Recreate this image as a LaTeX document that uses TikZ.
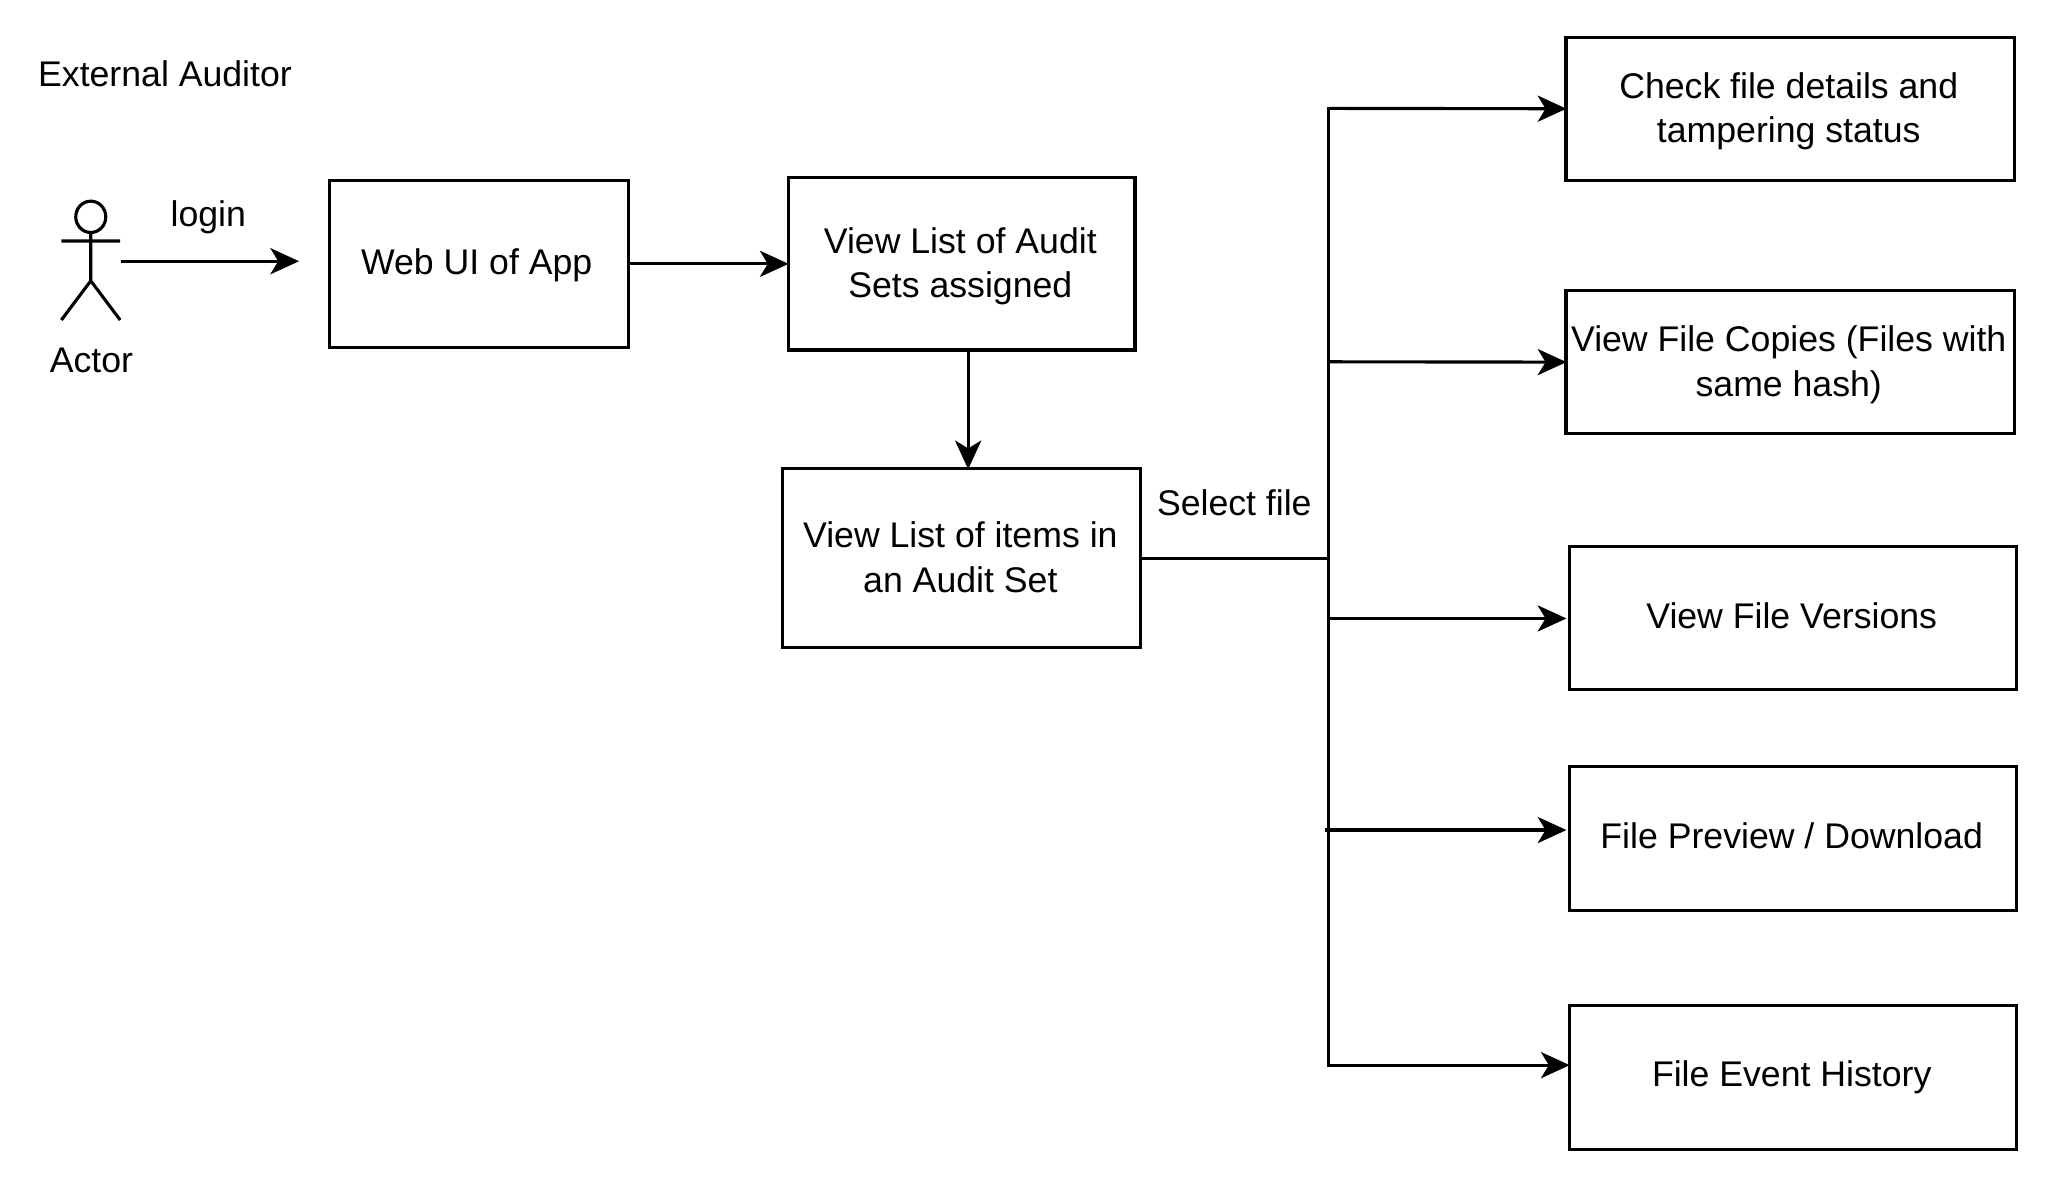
\documentclass[tikz,border=0pt]{standalone}
\usepackage{fontspec}
\setmainfont{Liberation Sans}
\usetikzlibrary{arrows.meta}
\tikzset{
  box/.style={draw=black,line width=2.4pt,fill=white,align=center,inner sep=0pt},
  lbl/.style={inner sep=0pt,align=center},
  conn/.style={line width=2.4pt,draw=black},
  arr/.style={conn,shorten >=-1.5pt,-{Stealth[length=22pt,width=20pt,inset=6pt]}},
  stick/.style={line width=2.4pt,draw=black},
}
\newcommand{\rectnode}[6]{\node[box,minimum width=#4pt-#2pt,minimum height=#5pt-#3pt] (#1) at ({(#2+#4)/2},{(#3+#5)/2}) {#6};}
% text nudges inside a box: lower the block by #1, raise it by #1 (with natural depth #2)
\newcommand{\dnby}[1]{\rule{0pt}{\dimexpr19.9pt+2\dimexpr#1\relax\relax}}
\newcommand{\upby}[2][0pt]{\rule[\dimexpr-#1-2\dimexpr#2\relax\relax]{0pt}{0pt}}
\begin{document}
\begin{tikzpicture}[x=1pt,y=-1pt,font=\fontsize{27.3}{34}\selectfont]
\useasboundingbox (0,0) rectangle (1568,904.2);
\rectnode{web}{252}{138}{481}{266}{\dnby{1pt}Web UI of App\kern3pt}
\rectnode{sets}{603.5}{136}{869}{268}{\dnby{2pt}View List of Audit\kern2pt\\Sets assigned\kern2pt}
\rectnode{items}{599}{359}{873.5}{496}{View List of items in\kern2pt\\an Audit Set\kern2pt\upby{1pt}}
\rectnode{check}{1199}{28.5}{1542}{138}{\dnby{2pt}Check file details and\kern2pt\\tampering status\kern2pt}
\rectnode{copies}{1199}{222.5}{1542}{332}{\dnby{2pt}View File Copies (Files with\kern2pt\\same hash)\kern2pt}
\rectnode{versions}{1201.5}{418.5}{1544}{528}{View File Versions\kern2pt\upby{2pt}}
\rectnode{preview}{1201.5}{587}{1544}{697}{File Preview / Download\kern2pt\upby{2pt}}
\rectnode{history}{1201.5}{770}{1544}{880}{File Event History\kern2pt\upby[5.7pt]{0.5pt}}

\node[lbl,anchor=west] (title) at (29,56.8) {External Auditor};
\node[lbl] (actorlabel) at (70,276) {Actor};
\node[lbl] (login) at (159.5,166) {login};
\node[lbl] (select) at (945,385) {Select file};

% actor figure
\draw[stick] (69.5,166) ellipse [x radius=11.5,y radius=12];
\draw[stick] (69.5,178) -- (69.5,215) (47,184.5) -- (92,184.5) (47,245) -- (69.5,215) -- (92,245);

\coordinate (actorout) at (93,200);
\coordinate (actorin) at (227.5,200);
\draw[arr] (actorout) -- (actorin);
\draw[arr] (web.east) -- (sets.west);
\draw[arr] ([xshift=5pt]sets.south) -- ([xshift=5pt]items.north);

\coordinate (trunkmid) at (1017,427.5);
\coordinate (trunktop) at (1017,83);
\coordinate (trunkb) at (1017,277);
\coordinate (trunkc) at (1017,473.5);
\coordinate (trunkd) at (1014.5,635.5);
\coordinate (trunkbot) at (1017,815.5);
\draw[conn] (items.east) -- (trunkmid);
\draw[conn,line cap=rect] (trunktop) -- (trunkbot);
\draw[arr] (trunktop) -- (check.west);
\draw[arr] (trunkb) -- (copies.west);
\draw[arr] (trunkc) -- (trunkc -| copies.west);
\draw[arr] (trunkd) -- (trunkd -| copies.west);
\draw[arr] (trunkbot) -- (trunkbot -| history.west);
\end{tikzpicture}
\end{document}
